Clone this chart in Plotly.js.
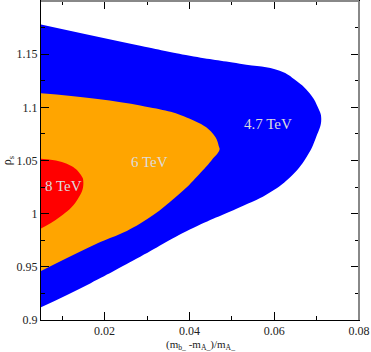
<!DOCTYPE html>
<html>
<head>
<meta charset="utf-8">
<script src="https://cdn.plot.ly/plotly-3.0.1.min.js"></script>
<style>
  html, body { margin: 0; padding: 0; background: #fff; }
  #myDiv { width: 371px; height: 352px; }
</style>
</head>
<body>
<div id="myDiv"></div>
<script>
// region boundaries, walked round each contour
var blueX = [0.005, 0.0284, 0.0401, 0.0519, 0.0613, 0.0652, 0.0684, 0.0703, 0.0711, 0.0699, 0.0676, 0.0637, 0.0582, 0.0519, 0.0401, 0.0284, 0.0166, 0.005];
var blueY = [1.178, 1.158, 1.1486, 1.1411, 1.1345, 1.125, 1.113, 1.100, 1.089, 1.072, 1.053, 1.034, 1.018, 1.006, 0.985, 0.9594, 0.9344, 0.9119];

var orangeX = [0.005, 0.0284, 0.0401, 0.0456, 0.0470, 0.0471, 0.0452, 0.0417, 0.0386, 0.0284, 0.0166, 0.005];
var orangeY = [1.1132, 1.1017, 1.0892, 1.075, 1.0626, 1.0600, 1.050, 1.0344, 1.022, 0.9907, 0.9688, 0.946];

var redX = [0.005, 0.0111, 0.0142, 0.0150, 0.0135, 0.0095, 0.005];
var redY = [1.0517, 1.047, 1.0376, 1.0288, 1.0126, 0.997, 0.986];

var labels = ["4.7 TeV", "6 TeV", "8 TeV"];
var labelX = [0.0586, 0.0307, 0.0103];
var labelY = [1.0845, 1.0485, 1.0257];

var xTitle = '(m<sub>b_</sub> -m<sub>A_</sub>)/m<sub>A_</sub>';
var serif = "Liberation Serif";

function region(x, y, col) {
  return {
    x: x, y: y,
    mode: 'lines',
    type: 'scatter',
    fill: 'toself',
    fillcolor: col,
    line: {width: 0, color: col, shape: 'spline', smoothing: 1.3},
    hoverinfo: 'skip'
  };
}

var data = [
  region(blueX, blueY, '#0000ff'),
  region(orangeX, orangeY, '#ffa500'),
  region(redX, redY, '#ff0000')
];

var notes = [];
for (var i = 0; i < labels.length; i++) {
  notes.push({
    x: labelX[i], y: labelY[i], text: labels[i],
    showarrow: false,
    font: {family: serif, size: 15, color: '#dcdcdc'}
  });
}
// x title as a note so it sits a bit lower, like the original
notes.push({
  xref: 'paper', yref: 'paper', x: 0.5, y: 0, yanchor: 'top', yshift: -16,
  text: xTitle, showarrow: false,
  font: {family: serif, size: 11, color: '#222'}
});

var layout = {
  width: 371,
  height: 352,
  margin: {l: 41, r: 12, t: 1, b: 32},
  paper_bgcolor: '#fff',
  plot_bgcolor: '#fff',
  showlegend: false,
  font: {family: serif, size: 12, color: '#222'},
  xaxis: {
    range: [0.005, 0.08],
    tickvals: [0.02, 0.04, 0.06, 0.08],
    ticktext: ['0.02', '0.04', '0.06', '0.08'],
    ticks: 'inside', ticklen: 8, tickcolor: '#000',
    minor: {tickvals: [0.01, 0.03, 0.05, 0.07], ticks: 'inside', ticklen: 4, tickcolor: '#000'},
    showline: true, linecolor: '#000', linewidth: 1, mirror: 'allticks',
    showgrid: false, zeroline: false
  },
  yaxis: {
    range: [0.9, 1.2],
    tickvals: [0.9, 0.95, 1, 1.05, 1.1, 1.15],
    ticktext: ['0.9', '0.95', '1', '1.05', '1.1', '1.15'],
    ticks: 'inside', ticklen: 8, tickcolor: '#000',
    minor: {tickvals: [0.925, 0.975, 1.025, 1.075, 1.125, 1.175], ticks: 'inside', ticklen: 4, tickcolor: '#000'},
    showline: true, linecolor: '#000', linewidth: 1, mirror: 'allticks',
    showgrid: false, zeroline: false,
    title: {text: 'ρ<sub>s</sub>', standoff: 3, font: {family: serif, size: 12}}
  },
  shapes: [
    {type: 'line', xref: 'paper', yref: 'paper', x0: 0, x1: 1, y0: 1, y1: 1, line: {color: '#888', width: 2}},
    {type: 'line', xref: 'paper', yref: 'paper', x0: 1, x1: 1, y0: 0, y1: 1, line: {color: '#888', width: 2}}
  ],
  annotations: notes
};

Plotly.newPlot('myDiv', data, layout, {displayModeBar: false, staticPlot: true});
</script>
</body>
</html>
